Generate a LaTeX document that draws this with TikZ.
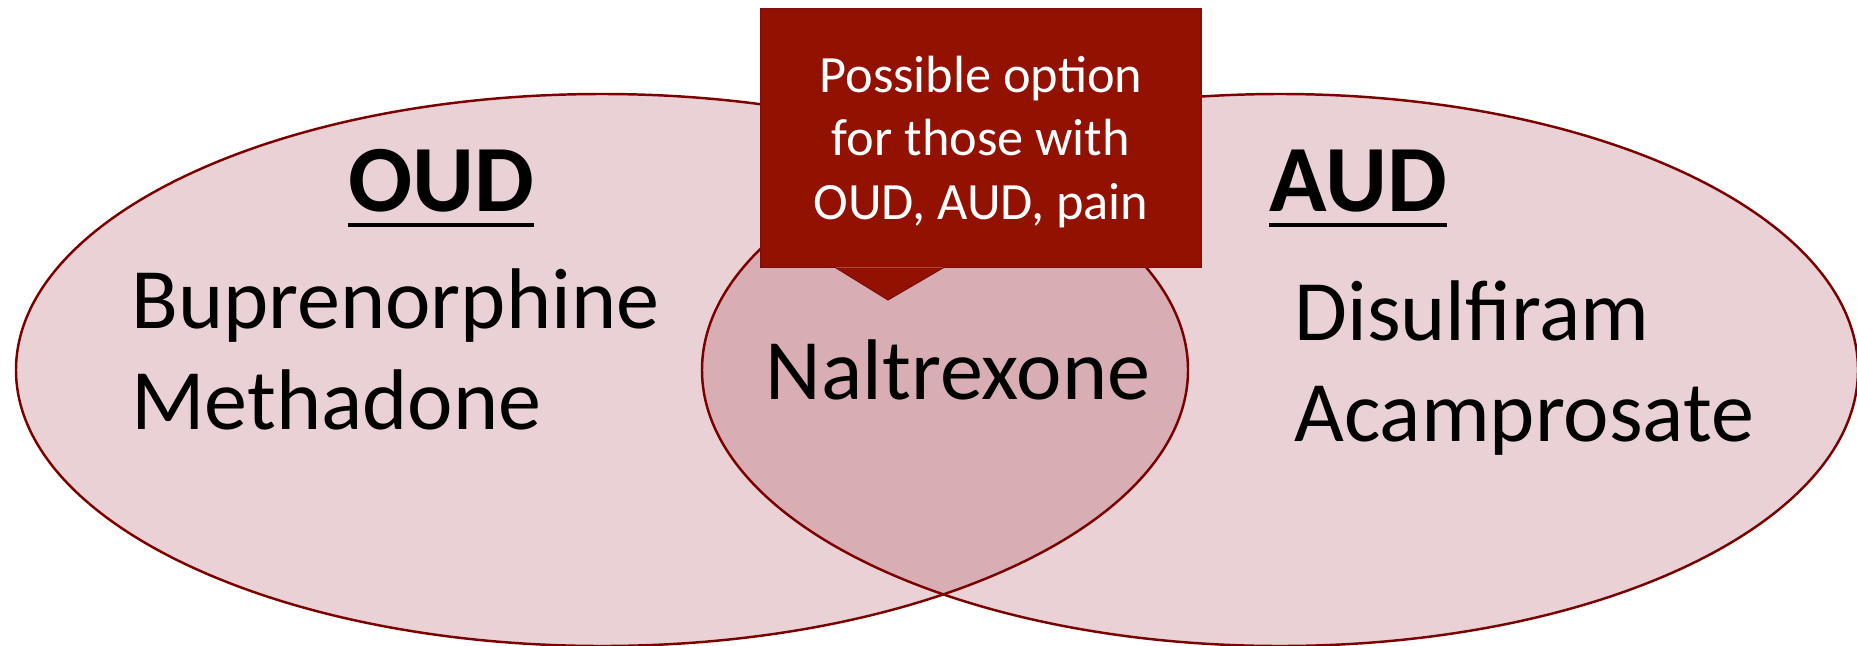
\documentclass[tikz,border=0pt]{standalone}
\usepackage{fontspec}
\setmainfont{Carlito}
\usepackage{xcolor}
\usepackage{tikz}
\usetikzlibrary{positioning}

\definecolor{vennfill}{HTML}{EAD1D6}
\definecolor{lensfill}{HTML}{D9ADB4}
\definecolor{vennline}{HTML}{7A0000}
\definecolor{notefill}{HTML}{921100}
\definecolor{noteline}{HTML}{7B0F0F}

\begin{document}
\begin{tikzpicture}[x=0.02cm, y=-0.02cm,
    set/.style={fill=vennfill},
    setline/.style={draw=vennline, line width=1.4pt},
    head/.style={inner sep=0pt, font=\fontsize{54}{66}\selectfont\bfseries},
    drug/.style={inner sep=0pt, font=\fontsize{49}{60}\selectfont},
    note/.style={fill=notefill, minimum width=8.8cm, minimum height=5.16cm, inner sep=0pt},
    notetext/.style={text=white, align=center, inner sep=0pt, font=\fontsize{29.8}{36.4}\selectfont}
]
    \useasboundingbox (0,0) rectangle (1857,646);

    % two sets, overlap filled darker
    \fill[set] (602,370) ellipse [x radius=586, y radius=276];
    \fill[set] (1280,370) ellipse [x radius=578, y radius=276];
    \begin{scope}
        \clip (602,370) ellipse [x radius=586, y radius=276];
        \fill[lensfill] (1280,370) ellipse [x radius=578, y radius=276];
    \end{scope}
    \draw[setline] (602,370) ellipse [x radius=586, y radius=276];
    \draw[setline] (1280,370) ellipse [x radius=578, y radius=276];

    \node[head, anchor=base] (oud) at (441,211) {OUD};
    \node[head, anchor=base] (aud) at (1358,211) {AUD};
    \draw[line width=2.4pt] ([yshift=-0.28cm]oud.base west) -- ([yshift=-0.28cm]oud.base east);
    \draw[line width=2.4pt] ([yshift=-0.28cm]aud.base west) -- ([yshift=-0.28cm]aud.base east);

    \node[drug, anchor=base west] (bup) at (131,328) {Buprenorphine};
    \node[drug, anchor=base west] (meth) at (131,429) {Methadone};
    \node[drug, anchor=base] (nal) at (958,399) {Naltrexone};
    \node[drug, anchor=base west] (dis) at (1294,340) {Disulfiram};
    \node[drug, anchor=base west] (acam) at (1294,441) {Acamprosate};

    % callout
    \node[note] (note) at (981,138) {};
    \node[notetext] (notetext) at ([yshift=-0.08cm]note.center) {Possible option\\for those with\\OUD, AUD, pain};
    \coordinate (tip) at (888,300);
    \fill[notefill] ([xshift=-2.92cm]note.south) -- (tip) -- ([xshift=-0.74cm]note.south) -- cycle;
    \draw[noteline, line width=0.6pt] (note.south west) -- (note.north west) -- (note.north east) -- (note.south east)
        -- ([xshift=-0.74cm]note.south) -- (tip) -- ([xshift=-2.92cm]note.south) -- cycle;

\end{tikzpicture}
\end{document}
